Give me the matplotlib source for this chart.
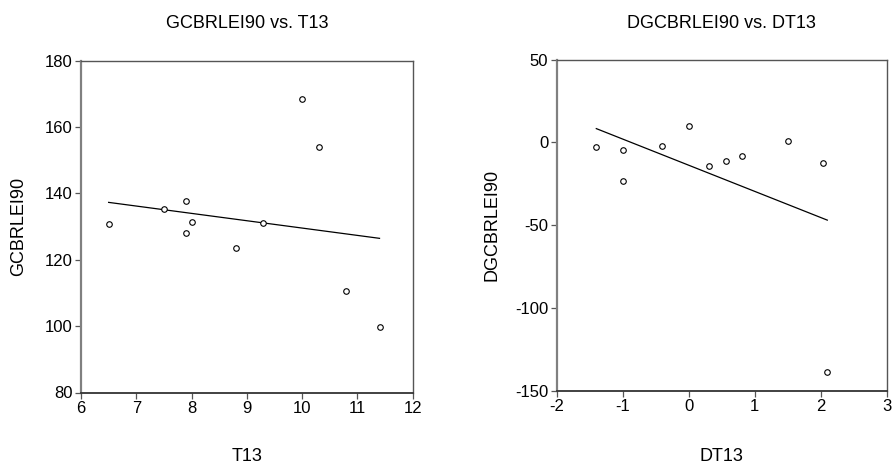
import numpy as np
import matplotlib
matplotlib.use("Agg")
import matplotlib.pyplot as plt

plt.rcParams['font.family'] = ['Liberation Sans', 'DejaVu Sans']
plt.rcParams['axes.unicode_minus'] = False

# Left panel data
t13 = [6.5, 7.5, 7.9, 8.0, 7.9, 8.8, 9.3, 10.0, 10.3, 10.8, 11.4]
gcbrlei90 = [130.7, 135.2, 137.7, 131.5, 128.2, 123.5, 131.0, 168.5, 154.1, 110.7, 99.7]

# Right panel data
dt13 = [-1.4, -1.0, -1.0, -0.4, 0.0, 0.3, 0.57, 0.8, 1.5, 2.03, 2.1]
dgcbrlei90 = [-2.8, -4.5, -23.1, -2.4, 9.8, -14.3, -11.1, -8.1, 1.0, -12.7, -138.6]

left_title = "GCBRLEI90 vs. T13"
right_title = "DGCBRLEI90 vs. DT13"

W, H = 893, 472
fig = plt.figure(figsize=(W / 100, H / 100), dpi=100)

def px_axes(x0, x1, y0, y1):
    return fig.add_axes([x0 / W, 1 - y1 / H, (x1 - x0) / W, (y1 - y0) / H])

ax1 = px_axes(81, 412.7, 60.7, 392.5)
ax2 = px_axes(556.7, 886.7, 59.5, 391.0)

def style(ax, x, y, xlim, ylim, xticks, yticks, xlabel, ylabel, title, ylab_px):
    x = np.asarray(x); y = np.asarray(y)
    ax.plot(x, y, linestyle='none', marker='o', markersize=4,
            markerfacecolor='white', markeredgecolor='black', markeredgewidth=0.8, zorder=3)
    b, a = np.polyfit(x, y, 1)
    xs = np.array([x.min(), x.max()])
    ax.plot(xs, a + b * xs, color='black', linewidth=0.9, zorder=2)
    ax.set_xlim(*xlim); ax.set_ylim(*ylim)
    ax.set_xticks(xticks); ax.set_yticks(yticks)
    ax.tick_params(direction='out', length=4, width=0.9, color='#555555',
                   labelsize=12, labelcolor='black', pad=2)
    ax.spines['left'].set_color('#808080'); ax.spines['left'].set_linewidth(1.6)
    ax.spines['bottom'].set_color('#333333'); ax.spines['bottom'].set_linewidth(1.3)
    ax.spines['top'].set_color('#555555'); ax.spines['top'].set_linewidth(1.0)
    ax.spines['right'].set_color('#555555'); ax.spines['right'].set_linewidth(1.0)
    ax.set_xlabel(xlabel, fontsize=13)
    ax.set_ylabel(ylabel, fontsize=13)
    pos = ax.get_position()
    x0 = pos.x0 * W; w = pos.width * W
    h = pos.height * H; ybot = (1 - pos.y0) * H
    ax.yaxis.set_label_coords((ylab_px - x0) / w, 0.5)
    ax.xaxis.set_label_coords(0.5, (ybot - 448) / h)
    fig.text(pos.x0 + pos.width / 2, 1 - 24 / H, title, ha='center', va='center', fontsize=13)

style(ax1, t13, gcbrlei90, (6, 12), (80, 180), [6, 7, 8, 9, 10, 11, 12],
      [80, 100, 120, 140, 160, 180], "T13", "GCBRLEI90", left_title, 27)
style(ax2, dt13, dgcbrlei90, (-2, 3), (-150, 50), [-2, -1, 0, 1, 2, 3],
      [-150, -100, -50, 0, 50], "DT13", "DGCBRLEI90", right_title, 501)

fig.savefig("out.png", dpi=100)
